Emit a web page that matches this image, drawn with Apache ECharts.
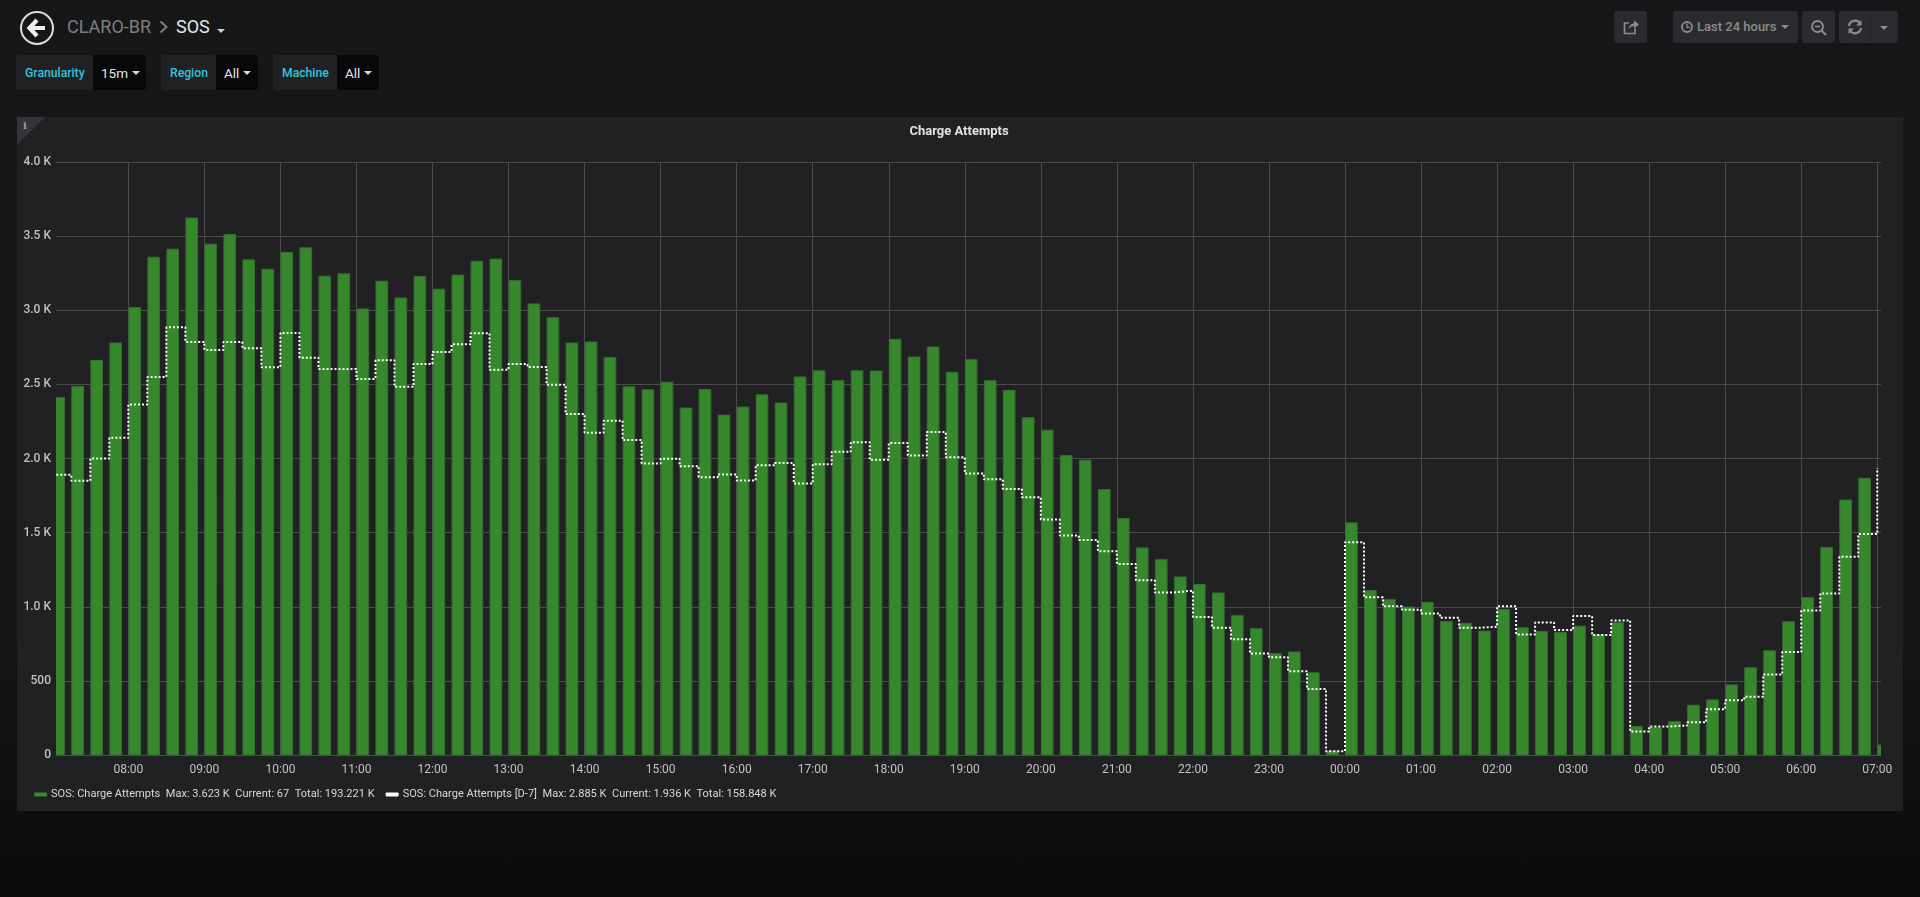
<!DOCTYPE html>
<html><head><meta charset="utf-8">
<script src="https://cdn.jsdelivr.net/npm/echarts@6/dist/echarts.min.js"></script>
<style>
html,body{margin:0;padding:0;width:1920px;height:897px;overflow:hidden;background:linear-gradient(#161719 0,#141517 70%,#0a0b0d 100%);font-family:Roboto,sans-serif}
.a{position:absolute;white-space:nowrap}
#panel{left:17px;top:117px;width:1886px;height:694px;background:#212124}
#corner{left:17px;top:117px;width:0;height:0;border-top:28px solid #343439;border-right:28px solid transparent}
#info{left:23px;top:120px;color:#a0a0a0;font:bold 10px "DejaVu Serif",serif}
#chart{left:0;top:0;width:1920px;height:897px}
.box{top:55px;height:35px;background:#212124;border-radius:3px;line-height:36px;font-size:12.2px;font-weight:500;color:#33c5d8;padding-left:9px;box-sizing:border-box}
.val{top:55px;height:35px;background:#08080a;border-radius:0 3px 3px 0;line-height:36px;font-size:13.5px;color:#e4e4e4;padding-left:8px;box-sizing:border-box}
.caret{display:inline-block;width:0;height:0;border-left:4px solid transparent;border-right:4px solid transparent;border-top:4px solid #d8d8d8;vertical-align:middle;margin-left:4px;position:relative;top:-1px}
.btn{top:11px;height:32px;background:#2a2b2e;border-radius:3px;box-sizing:border-box;color:#8c8c8c}
</style></head><body>
<div id="panel" class="a"></div>
<div id="corner" class="a"></div>
<div id="info" class="a">i</div>
<svg class="a" style="left:19px;top:10px" width="38" height="36" viewBox="0 0 38 36">
 <circle cx="18" cy="18" r="16" fill="none" stroke="#dcdcdc" stroke-width="2"/>
 <path d="M18 10 L10.5 18 L18 26 M10.5 18 H26" fill="none" stroke="#f0f0f0" stroke-width="4.2"/>
</svg>
<div class="a" style="left:67px;top:15px;font-size:18px;line-height:24px;color:#7f7f7f">CLARO-BR</div>
<svg class="a" style="left:158px;top:20px" width="12" height="14"><path d="M2.5 1.5 L8.5 7 L2.5 12.5" fill="none" stroke="#7f7f7f" stroke-width="2"/></svg>
<div class="a" style="left:176px;top:15px;font-size:18px;line-height:24px;color:#e6e6e6">SOS</div>
<div class="a" style="left:217px;top:29px;width:0;height:0;border-left:4px solid transparent;border-right:4px solid transparent;border-top:4px solid #cfcfcf"></div>

<div class="a box" style="left:16px;width:78px">Granularity</div>
<div class="a val" style="left:93px;width:53px">15m<span class="caret"></span></div>
<div class="a box" style="left:161px;width:56px">Region</div>
<div class="a val" style="left:216px;width:42px">All<span class="caret"></span></div>
<div class="a box" style="left:273px;width:65px">Machine</div>
<div class="a val" style="left:337px;width:42px">All<span class="caret"></span></div>

<div class="a btn" style="left:1614px;width:33px"></div>
<svg class="a" style="left:1622px;top:18px" width="18" height="18" viewBox="0 0 18 18"><path d="M13 10.5V15.5H2.5V5H7" fill="none" stroke="#8c8c8c" stroke-width="1.7"/><path d="M7 11 C7 7 10 5.5 12 5.5 V2.5 L17 6.5 L12 10.5 V8 C10 8 8 9 7 11Z" fill="#8c8c8c"/></svg>
<div class="a btn" style="left:1673px;width:125px;font-size:13px;font-weight:500;line-height:32px;padding-left:24px">Last 24 hours<span class="caret" style="border-top-color:#8c8c8c;margin-left:5px"></span></div>
<svg class="a" style="left:1680px;top:20px" width="14" height="14" viewBox="0 0 14 14"><circle cx="7" cy="7" r="5" fill="none" stroke="#8c8c8c" stroke-width="1.8"/><path d="M7 3.5V7.4H10" fill="none" stroke="#8c8c8c" stroke-width="1.3"/></svg>
<div class="a btn" style="left:1802px;width:33px"></div>
<svg class="a" style="left:1810px;top:19px" width="18" height="18" viewBox="0 0 18 18"><circle cx="7.5" cy="7.5" r="5.5" fill="none" stroke="#8c8c8c" stroke-width="2"/><path d="M5 7.5H10" stroke="#8c8c8c" stroke-width="1.6"/><path d="M11.5 11.5L16 16" stroke="#8c8c8c" stroke-width="2.2"/></svg>
<div class="a btn" style="left:1839px;width:59px"></div>
<div class="a" style="left:1870px;top:11px;width:1px;height:32px;background:#222326"></div>
<svg class="a" style="left:1847px;top:19px" width="16" height="16" viewBox="0 0 16 16"><path d="M2 7 A6 6 0 0 1 13 4.5 M14 9 A6 6 0 0 1 3 11.5" fill="none" stroke="#8c8c8c" stroke-width="2.2"/><path d="M14.5 1V6.5H9Z M1.5 15V9.5H7Z" fill="#8c8c8c"/></svg>
<div class="a" style="left:1880px;top:26px;width:0;height:0;border-left:4.5px solid transparent;border-right:4.5px solid transparent;border-top:4.5px solid #8c8c8c"></div>
<div id="chart" class="a"></div>
<script>
const startTime = Date.UTC(2018, 0, 1, 7, 0, 0);
const stepMs = 15 * 60 * 1000;
const yTicks = [0, 500, 1000, 1500, 2000, 2500, 3000, 3500, 4000];
const chargeAttempts = [
 2410,2487,2662,2779, 3018,3358,3412,3622, 3446,3511,3340,3277, 3390,3421,3230,3246,
 3009,3196,3083,3228, 3142,3237,3331,3345, 3200,3043,2950,2779, 2786,2682,2484,2464,
 2514,2340,2466,2293, 2347,2430,2374,2550, 2592,2525,2592,2590, 2804,2685,2752,2581,
 2666,2525,2460,2275, 2191,2020,1989,1790, 1595,1397,1318,1201, 1150,1093,940,852,
 684,695,555,27, 1566,1109,1048,999, 1030,901,888,836, 982,858,833,827,
 869,811,892,192, 185,226,336,372, 473,588,703,899, 1061,1400,1720,1866, 67];
const chargeAttemptsD7 = [
 1890,1850,2000,2140, 2365,2550,2885,2786, 2732,2786,2743,2615, 2847,2680,2604,2604,
 2536,2662,2484,2638, 2719,2770,2845,2599, 2637,2617,2498,2300, 2173,2255,2124,1966,
 1998,1948,1874,1892, 1851,1955,1969,1831, 1962,2045,2110,1991, 2104,2020,2178,2009,
 1899,1860,1795,1739, 1588,1480,1451,1375, 1289,1179,1096,1109, 931,859,780,684,
 659,565,445,25, 1435,1064,1003,979, 954,926,858,865, 1004,813,894,843,
 937,809,908,158, 192,199,221,309, 370,393,543,694, 975,1090,1337,1490, 1936];
const seriesNames = ['SOS: Charge Attempts', 'SOS: Charge Attempts [D-7]'];
const legendStats = ['Max: 3.623 K  Current: 67  Total: 193.221 K', 'Max: 2.885 K  Current: 1.936 K  Total: 158.848 K'];
const pairs = a => a.map((v, i) => [startTime + i * stepMs, v]);
const pad2 = n => String(n).padStart(2, '0');
const chart = echarts.init(document.getElementById('chart'), null, {renderer: 'canvas'});
const renderBar = (params, api) => {
  const t = api.value(0);
  const top = api.coord([t, api.value(1)]);
  const base = api.coord([t, 0]);
  const width = api.size([stepMs, 0])[0] * 2 / 3;
  return {type: 'rect', shape: {x: top[0] + 0.5, y: top[1], width: width - 1, height: base[1] - top[1]},
    style: {fill: '#37872d', stroke: '#336f2e', lineWidth: 1}};
};
chart.setOption({
  animation: false, useUTC: true, backgroundColor: 'transparent',
  textStyle: {fontFamily: 'Roboto'},
  title: {text: 'Charge Attempts', left: 954, top: 120, textAlign: 'center',
    textStyle: {color: '#e3e3e3', fontSize: 13, fontWeight: 'bold', fontFamily: 'Roboto'}},
  grid: {left: 56, right: 39, top: 162, bottom: 142, containLabel: false},
  legend: {
    data: seriesNames.map(n => ({name: n, itemStyle: {color: n === seriesNames[0] ? '#37872d' : '#ffffff', borderWidth: 0}, lineStyle: {opacity: 0}})),
    left: 34, top: 789, padding: 0, itemWidth: 13, itemHeight: 4, itemGap: 11, icon: 'roundRect', selectedMode: false,
    formatter: n => n + '  ' + legendStats[seriesNames.indexOf(n)],
    textStyle: {color: '#d8d8d8', fontSize: 11.05, fontFamily: 'Roboto', padding: [0, 0, 0, -1]}
  },
  xAxis: {
    type: 'time', min: startTime + 175000, max: startTime + 96 * stepMs + 175000,
    minInterval: 3600000, maxInterval: 3600000,
    axisLine: {show: false}, axisTick: {show: false},
    axisLabel: {color: '#c2c2c2', fontSize: 12, margin: 9, showMinLabel: false, showMaxLabel: false, hideOverlap: false,
      formatter: v => { const d = new Date(v); return pad2(d.getUTCHours()) + ':' + pad2(d.getUTCMinutes()); }},
    splitLine: {show: true, showMinLine: false, showMaxLine: false, lineStyle: {color: '#4b4b4d', width: 1}}
  },
  yAxis: {
    type: 'value', min: yTicks[0], max: yTicks[yTicks.length - 1], interval: 500,
    axisLine: {show: false}, axisTick: {show: false},
    axisLabel: {color: '#c2c2c2', fontSize: 12, margin: 5, fontWeight: 500,
      formatter: v => v >= 1000 ? (v / 1000).toFixed(1) + ' K' : String(v)},
    splitLine: {show: true, lineStyle: {color: '#4b4b4d', width: 1}}
  },
  series: [
    {name: seriesNames[0], type: 'custom', renderItem: renderBar, clip: true, data: pairs(chargeAttempts),
      encode: {x: 0, y: 1}, itemStyle: {color: '#37872d'}, z: 2},
    {name: seriesNames[1], type: 'line', step: 'end', showSymbol: false, clip: true, data: pairs(chargeAttemptsD7), z: 3,
      lineStyle: {color: '#ffffff', width: 2, type: [2, 2]}, itemStyle: {color: '#ffffff'}}
  ]
});
</script>
</body></html>
